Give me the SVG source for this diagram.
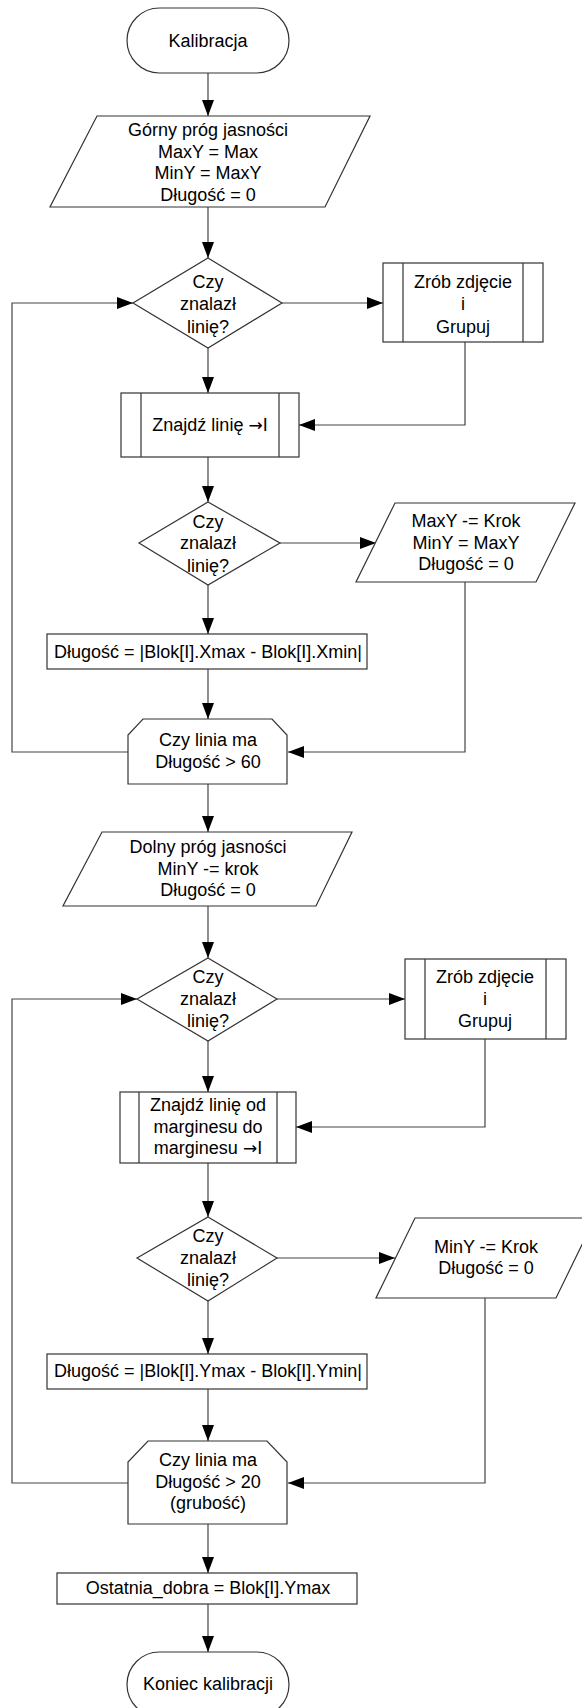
<svg xmlns="http://www.w3.org/2000/svg" width="582" height="1708" viewBox="0 0 582 1708">
  <defs>
    <marker id="arrow" viewBox="0 0 16 12" refX="16" refY="6" markerWidth="16" markerHeight="12" markerUnits="userSpaceOnUse" orient="auto">
      <path d="M0,0 L16,6 L0,12 Z" fill="#000"/>
    </marker>
    <style>
      .shape { fill: #fff; stroke: #333; stroke-width: 1.2; }
      .inner { fill: none; stroke: #333; stroke-width: 1.2; }
      .conn { fill: none; stroke: #444; stroke-width: 1.2; marker-end: url(#arrow); }
      text { font-family: "Liberation Sans", Arial, sans-serif; font-size: 18px; fill: #000; text-anchor: middle; dominant-baseline: central; }
      .arr { font-family: "DejaVu Sans", sans-serif; font-size: 17px; }
    </style>
  </defs>
  <rect width="582" height="1708" fill="#fff"/>

  <!-- connectors -->
  <g id="connectors">
    <path class="conn" d="M208,73 V116"/>
    <path class="conn" d="M208,207 V258"/>
    <path class="conn" d="M282,303 H383"/>
    <path class="conn" d="M465,342 V425 H299"/>
    <path class="conn" d="M208,348 V393"/>
    <path class="conn" d="M208,457 V502"/>
    <path class="conn" d="M280,543 H376"/>
    <path class="conn" d="M465,582 V752 H288"/>
    <path class="conn" d="M208,585 V634"/>
    <path class="conn" d="M208,669 V719"/>
    <path class="conn" d="M128,752 H12 V303 H133"/>
    <path class="conn" d="M208,784 V832"/>
    <path class="conn" d="M208,906 V958"/>
    <path class="conn" d="M277,999 H405"/>
    <path class="conn" d="M485,1039 V1127 H296"/>
    <path class="conn" d="M208,1041 V1092"/>
    <path class="conn" d="M208,1163 V1217"/>
    <path class="conn" d="M277,1258 H395"/>
    <path class="conn" d="M485,1298 V1483 H288"/>
    <path class="conn" d="M208,1301 V1354"/>
    <path class="conn" d="M208,1389 V1441"/>
    <path class="conn" d="M128,1483 H12 V999 H137"/>
    <path class="conn" d="M208,1524 V1573"/>
    <path class="conn" d="M208,1604 V1652"/>
  </g>

  <!-- start -->
  <g id="start">
    <rect class="shape" x="127" y="8" width="162" height="65" rx="32.5" ry="32.5"/>
    <text x="208" y="41">Kalibracja</text>
  </g>

  <!-- upper threshold init -->
  <g id="upper-init">
    <polygon class="shape" points="97,116 370,116 325,207 50,207"/>
    <text x="208" y="130">Górny próg jasności</text>
    <text x="208" y="152">MaxY = Max</text>
    <text x="208" y="173">MinY = MaxY</text>
    <text x="208" y="195">Długość = 0</text>
  </g>

  <g id="decision-1">
    <polygon class="shape" points="208,258 282,303 208,348 133,303"/>
    <text x="208" y="282">Czy</text>
    <text x="208" y="304">znalazł</text>
    <text x="208" y="327">linię?</text>
  </g>

  <g id="capture-1">
    <rect class="shape" x="383" y="263" width="160" height="79"/>
    <path class="inner" d="M403,263 V342 M523,263 V342"/>
    <text x="463" y="282">Zrób zdjęcie</text>
    <text x="463" y="304">i</text>
    <text x="463" y="327">Grupuj</text>
  </g>

  <g id="find-line-1">
    <rect class="shape" x="121" y="393" width="178" height="64"/>
    <path class="inner" d="M141,393 V457 M279,393 V457"/>
    <text x="210" y="425">Znajdź linię <tspan class="arr">→</tspan>I</text>
  </g>

  <g id="decision-2">
    <polygon class="shape" points="208,502 280,543 208,585 139,543"/>
    <text x="208" y="522">Czy</text>
    <text x="208" y="543">znalazł</text>
    <text x="208" y="566">linię?</text>
  </g>

  <g id="lower-max">
    <polygon class="shape" points="395,503 575,503 536,582 356,582"/>
    <text x="466" y="521">MaxY -= Krok</text>
    <text x="466" y="543">MinY = MaxY</text>
    <text x="466" y="564">Długość = 0</text>
  </g>

  <g id="length-x">
    <rect class="shape" x="47" y="634" width="320" height="35"/>
    <text x="208" y="652">Długość = |Blok[I].Xmax - Blok[I].Xmin|</text>
  </g>

  <g id="loop-end-1">
    <polygon class="shape" points="143,719 272,719 287,735 287,784 128,784 128,735"/>
    <text x="208" y="740">Czy linia ma</text>
    <text x="208" y="762">Długość &gt; 60</text>
  </g>

  <!-- lower threshold init -->
  <g id="lower-init">
    <polygon class="shape" points="102,832 352,832 316,906 63,906"/>
    <text x="208" y="847">Dolny próg jasności</text>
    <text x="208" y="869">MinY -= krok</text>
    <text x="208" y="890">Długość = 0</text>
  </g>

  <g id="decision-3">
    <polygon class="shape" points="208,958 277,999 208,1041 137,999"/>
    <text x="208" y="977">Czy</text>
    <text x="208" y="999">znalazł</text>
    <text x="208" y="1021">linię?</text>
  </g>

  <g id="capture-2">
    <rect class="shape" x="405" y="959" width="161" height="80"/>
    <path class="inner" d="M425,959 V1039 M546,959 V1039"/>
    <text x="485" y="977">Zrób zdjęcie</text>
    <text x="485" y="999">i</text>
    <text x="485" y="1021">Grupuj</text>
  </g>

  <g id="find-line-2">
    <rect class="shape" x="120" y="1092" width="176" height="71"/>
    <path class="inner" d="M139,1092 V1163 M277,1092 V1163"/>
    <text x="208" y="1105">Znajdź linię od</text>
    <text x="208" y="1127">marginesu do</text>
    <text x="208" y="1148">marginesu <tspan class="arr">→</tspan>I</text>
  </g>

  <g id="decision-4">
    <polygon class="shape" points="208,1217 277,1258 208,1301 137,1258"/>
    <text x="208" y="1236">Czy</text>
    <text x="208" y="1258">znalazł</text>
    <text x="208" y="1280">linię?</text>
  </g>

  <g id="lower-min">
    <polygon class="shape" points="415,1218 595,1218 556,1298 376,1298"/>
    <text x="486" y="1247">MinY -= Krok</text>
    <text x="486" y="1268">Długość = 0</text>
  </g>

  <g id="length-y">
    <rect class="shape" x="47" y="1354" width="320" height="35"/>
    <text x="208" y="1371">Długość = |Blok[I].Ymax - Blok[I].Ymin|</text>
  </g>

  <g id="loop-end-2">
    <polygon class="shape" points="148,1441 267,1441 287,1462 287,1524 128,1524 128,1462"/>
    <text x="208" y="1460">Czy linia ma</text>
    <text x="208" y="1482">Długość &gt; 20</text>
    <text x="208" y="1503">(grubość)</text>
  </g>

  <g id="store-last">
    <rect class="shape" x="57" y="1573" width="300" height="31"/>
    <text x="208" y="1588">Ostatnia_dobra = Blok[I].Ymax</text>
  </g>

  <g id="end">
    <rect class="shape" x="127" y="1652" width="162" height="65" rx="32.5" ry="32.5"/>
    <text x="208" y="1684">Koniec kalibracji</text>
  </g>
</svg>
